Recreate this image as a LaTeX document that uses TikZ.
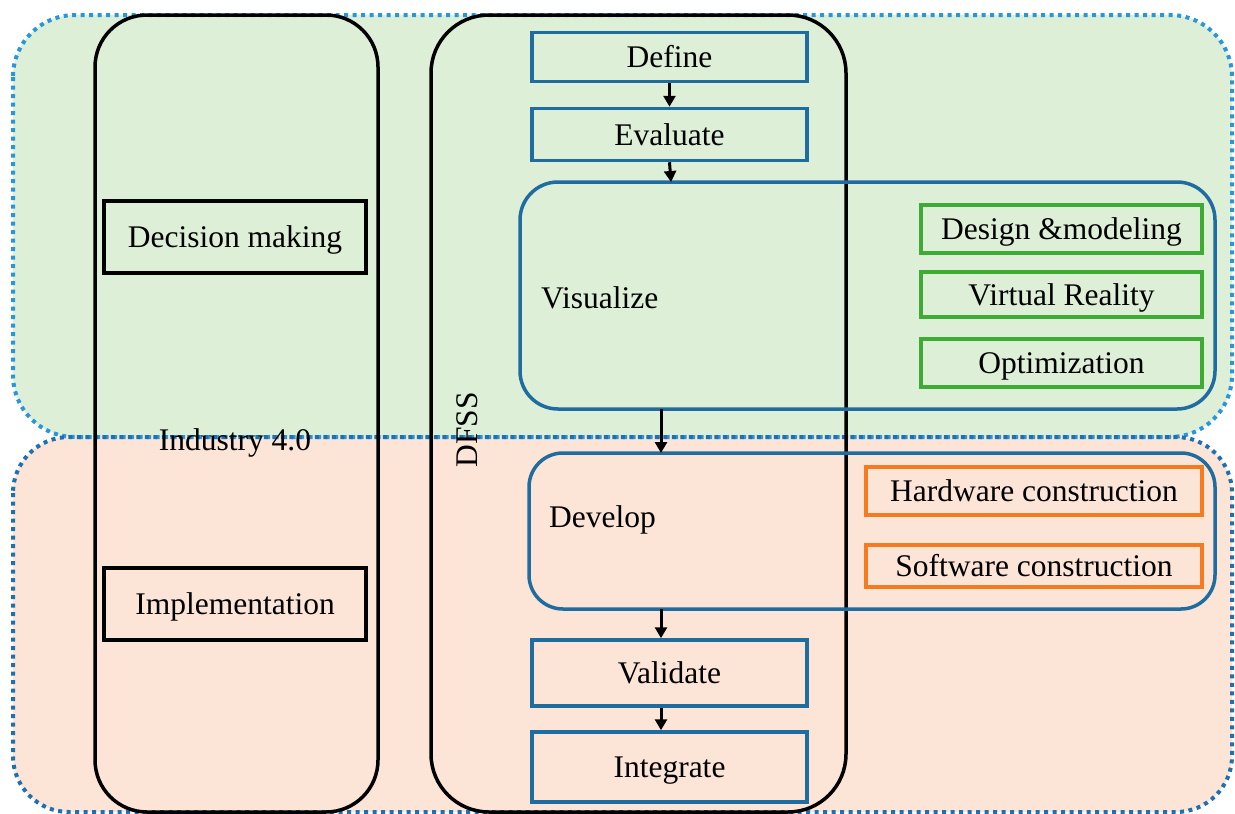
\documentclass[tikz,border=0pt]{standalone}
\usepackage{fontspec}
\setmainfont{Liberation Serif}
\usetikzlibrary{arrows.meta}

\definecolor{zonegreen}{RGB}{222,239,216}
\definecolor{zonepink}{RGB}{252,228,214}
\definecolor{dotlight}{RGB}{40,150,220}
\definecolor{dotdark}{RGB}{30,112,180}
\definecolor{stepblue}{RGB}{31,108,160}
\definecolor{subgreen}{RGB}{62,172,52}
\definecolor{suborange}{RGB}{245,122,32}

\tikzset{
  zone/.style={line width=4pt, dash pattern=on 4pt off 4.5pt, rounded corners=62pt},
  lane/.style={draw=black, line width=3.5pt, rounded corners=52pt},
  label/.style={font=\fontsize{31.5}{36}\selectfont, inner sep=0pt, text=black,
    text height=21pt, text depth=0pt},
  blackbox/.style={label, draw=black, line width=3.5pt, minimum width=262pt, minimum height=72pt},
  stepbox/.style={label, draw=stepblue, line width=3.5pt, minimum width=275pt},
  phasebox/.style={draw=stepblue, line width=3.5pt, rounded corners=38pt},
  greenbox/.style={label, draw=subgreen, line width=3.2pt, minimum width=281pt},
  orangebox/.style={label, draw=suborange, line width=3.2pt, minimum width=336pt},
  arr/.style={draw=black, line width=3pt, -{Triangle[width=12pt,length=11pt]}}
}

\begin{document}
\begin{tikzpicture}[x=1pt, y=-1pt]
  \useasboundingbox (0,0) rectangle (1235,814);

  % two background zones
  \fill[zonegreen, rounded corners=62pt] (13,15) rectangle (1232,437);
  \fill[zonepink, rounded corners=56pt] (13,437) rectangle (1232,812);
  \draw[zone, draw=dotlight] (13,15) rectangle (1232,437);
  \draw[zone, draw=dotdark, rounded corners=56pt] (13,437) rectangle (1232,812);

  % Industry 4.0 lane
  \draw[lane] (95,15) rectangle (378,812);
  \node[label] (ind) at (235,440) {Industry 4.0};
  \node[blackbox] (dec) at (235,237) {Decision making};
  \node[blackbox] (impl) at (235,604) {Implementation};

  % DFSS lane
  \draw[lane, rounded corners=58pt] (431,15) rectangle (846,812);
  \node[label, rotate=90] (dfss) at (467,430) {DFSS};

  % DFSS steps
  \node[stepbox, minimum height=49pt] (define) at (669.5,57) {Define};
  \node[stepbox, minimum height=52pt] (evaluate) at (669.5,134.5) {Evaluate};

  \draw[phasebox] (520,182) rectangle (1215,409);
  \coordinate (visN) at (671,182);
  \coordinate (visS) at (661,409);
  \node[label, anchor=west] (visualize) at (541,298) {Visualize};
  \node[greenbox, minimum height=48pt] (design) at (1061.5,229) {Design \&modeling};
  \node[greenbox, minimum height=45pt] (vr) at (1061.5,294.5) {Virtual Reality};
  \node[greenbox, minimum height=48pt] (opt) at (1061.5,363) {Optimization};

  \draw[phasebox, rounded corners=34pt] (529,453) rectangle (1215,609);
  \coordinate (devN) at (661,453);
  \coordinate (devS) at (661,609);
  \node[label, anchor=west] (develop) at (549,517) {Develop};
  \node[orangebox, minimum height=48pt] (hw) at (1034,491) {Hardware construction};
  \node[orangebox, minimum height=42pt] (sw) at (1034,566) {Software construction};

  \node[stepbox, minimum height=66pt] (validate) at (669.5,673) {Validate};
  \node[stepbox, minimum height=70pt] (integrate) at (669.5,767) {Integrate};

  % flow between steps
  \draw[arr] (define.south) -- (evaluate.north);
  \draw[arr] (evaluate.south) -- (visN);
  \draw[arr] (visS) -- (devN);
  \draw[arr] (devS) -- (devS |- validate.north);
  \draw[arr] (devS |- validate.south) -- (devS |- integrate.north);
\end{tikzpicture}
\end{document}
